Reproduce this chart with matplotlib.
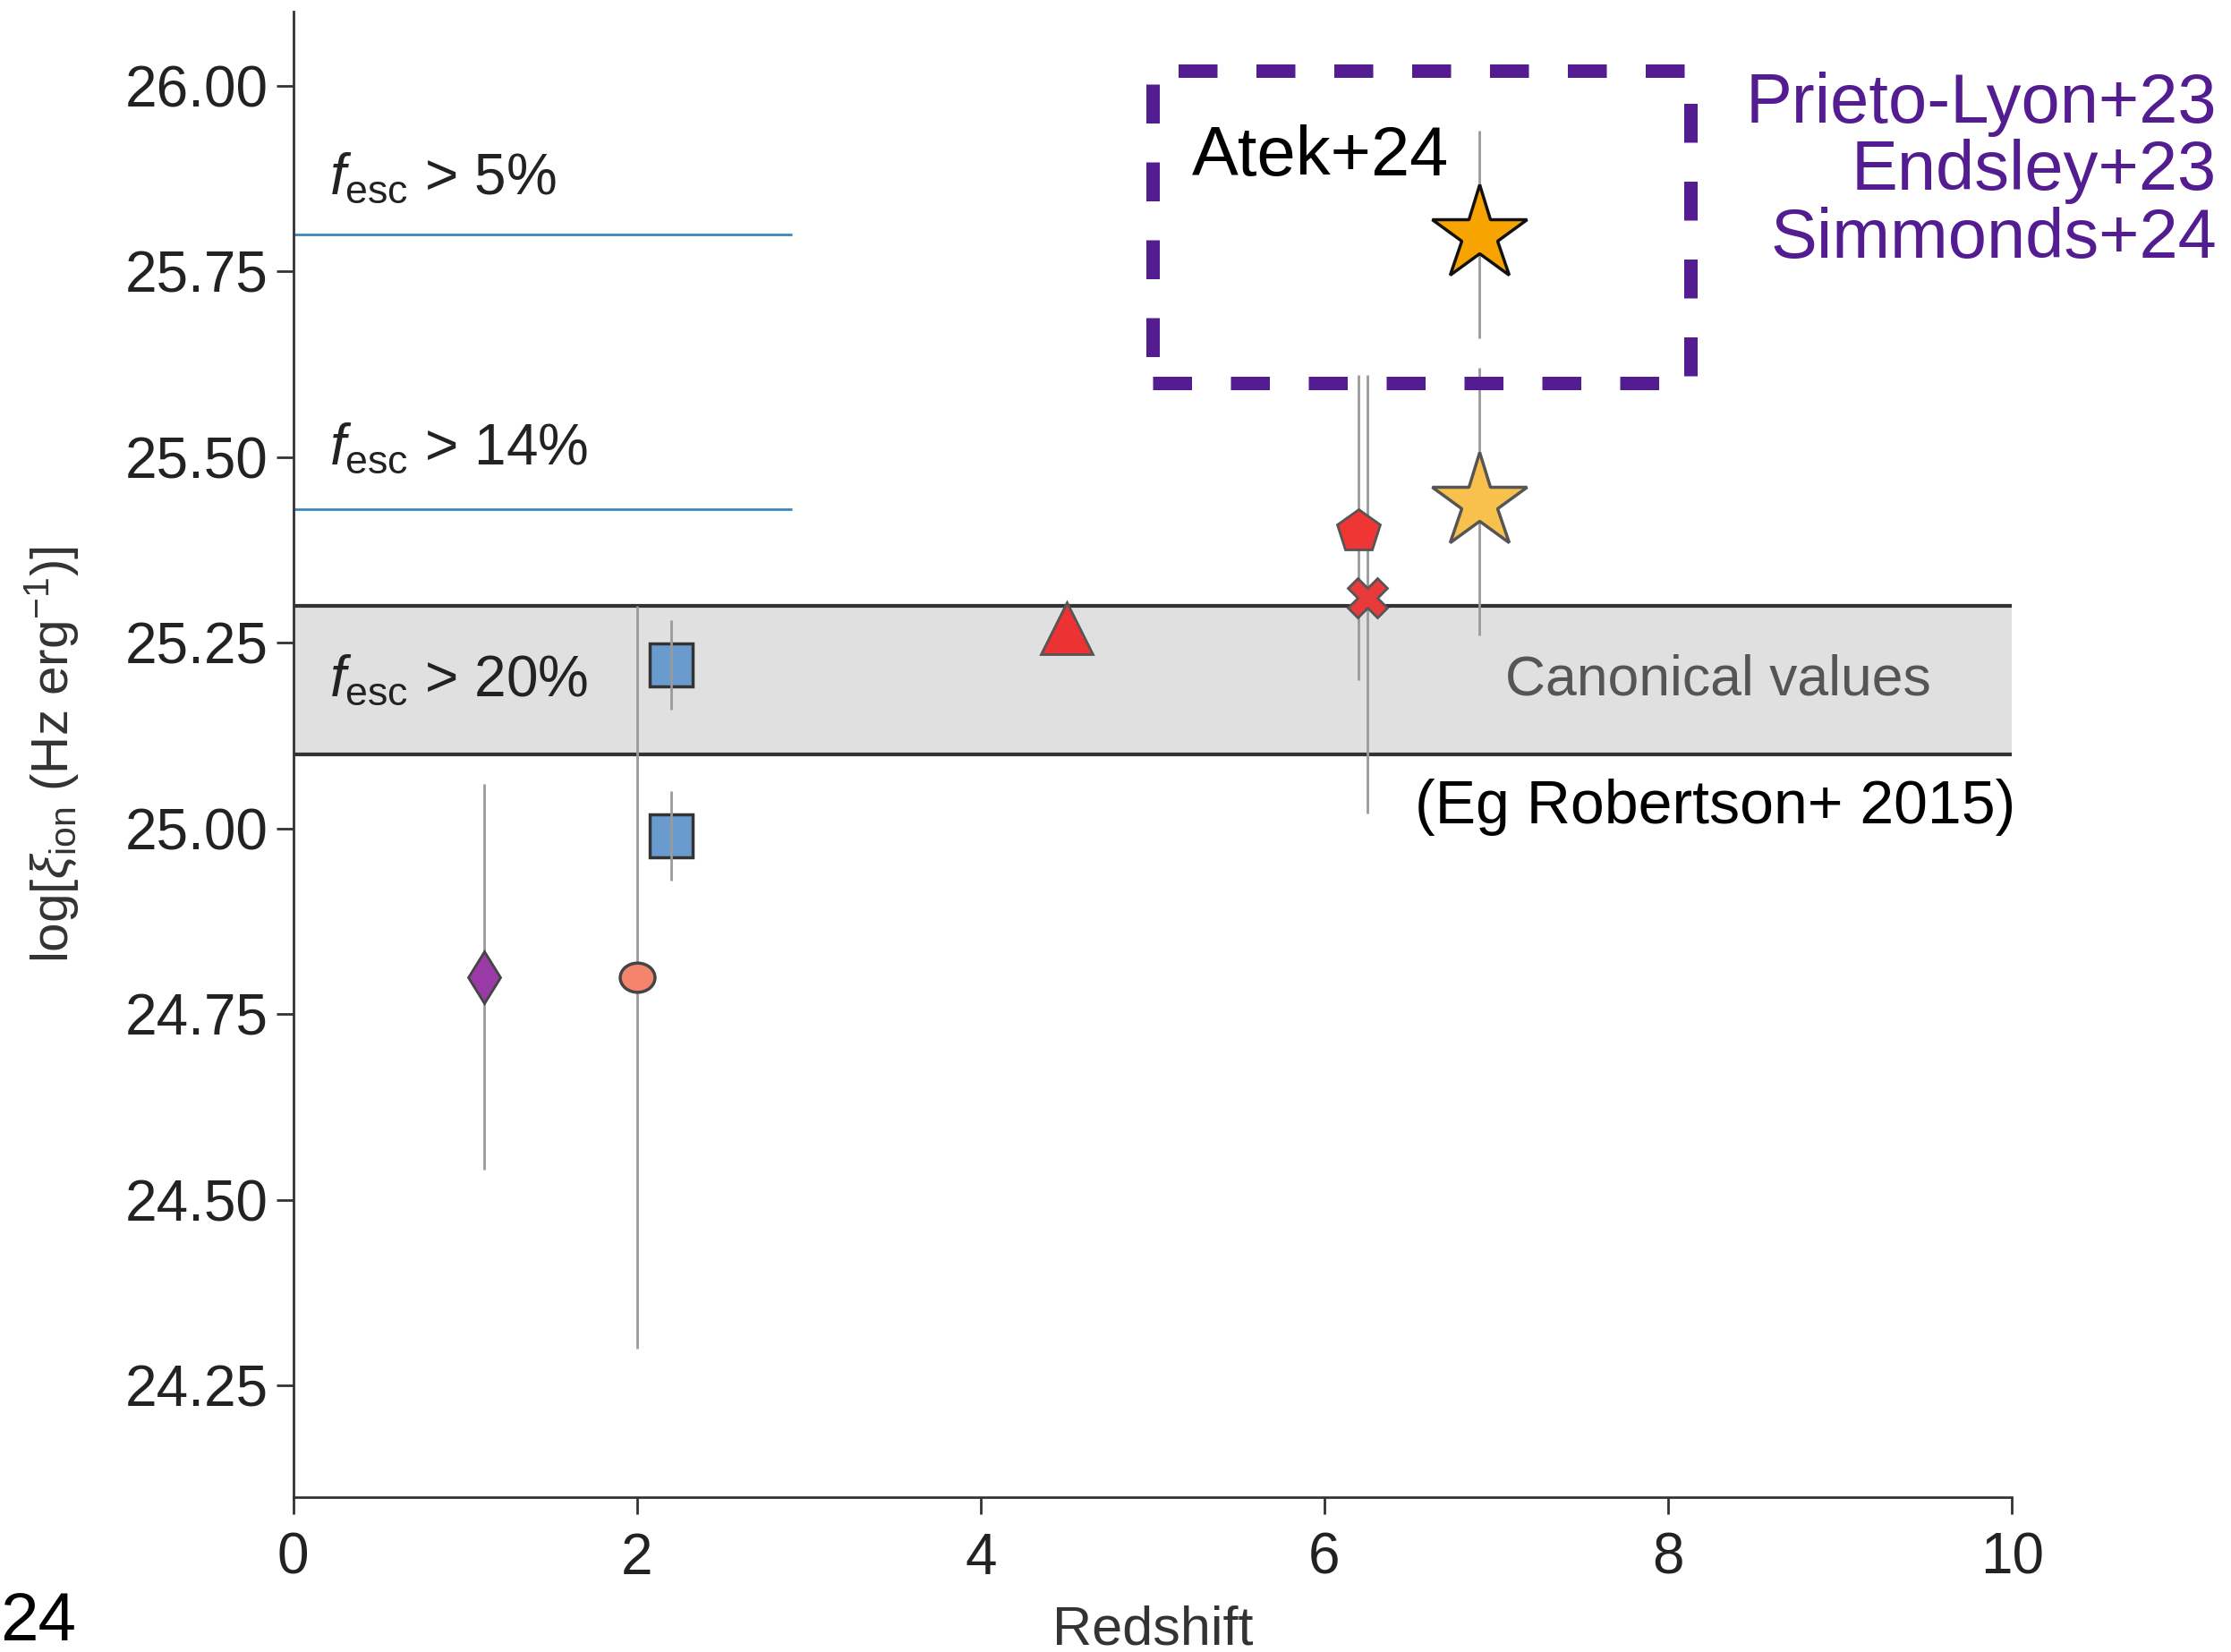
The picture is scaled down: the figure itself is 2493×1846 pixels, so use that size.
import numpy as np
import matplotlib
matplotlib.use("Agg")
import matplotlib.pyplot as plt
from matplotlib.patches import Rectangle
from matplotlib.path import Path
from matplotlib.transforms import Affine2D

plt.rcParams["font.family"] = ["Liberation Sans", "DejaVu Sans"]
plt.rcParams["mathtext.fontset"] = "custom"
plt.rcParams["mathtext.rm"] = "Liberation Sans"
plt.rcParams["mathtext.it"] = "Liberation Sans:italic"

# ionising photon production efficiency vs redshift
labels = ["diamond", "circle", "square_hi", "square_lo", "triangle",
          "pentagon", "cross", "star_lit", "star_atek"]
redshift = [1.11, 2.00, 2.20, 2.20, 4.50, 6.20, 6.25, 6.90, 6.90]
log_xi = [24.80, 24.80, 25.22, 24.99, 25.27, 25.40, 25.31, 25.44, 25.80]
err_lo = [24.54, 24.30, 25.16, 24.93, None, 25.20, 25.02, 25.26, 25.66]
err_hi = [25.06, 25.30, 25.28, 25.05, None, 25.61, 25.61, 25.62, 25.94]

# slightly squashed circle
oval = Path(Affine2D().scale(1.0, 0.84).transform(Path.unit_circle().vertices),
            Path.unit_circle().codes)

markers = ["d", oval, "s", "s", "^", "p", "X", "*", "*"]
sizes = [30, 28, 34, 34, 42, 36, 32, 80, 80]
faces = ["#9a3aa6", "#f4856c", "#6a9bcf", "#6a9bcf", "#ec3232",
         "#f03535", "#e83a3a", "#f8c04c", "#f7a400"]
edges = ["#444444", "#444444", "#333333", "#333333", "#555555",
         "#555555", "#555555", "#555555", "#111111"]
edge_w = [2, 2.5, 2.5, 2.5, 2, 2, 2, 2.5, 2.5]

# escape-fraction thresholds and the canonical band
fesc_levels = [25.80, 25.43]
fesc_labels = [r"$f_{\rm esc}$ > 5%", r"$f_{\rm esc}$ > 14%", r"$f_{\rm esc}$ > 20%"]
fesc_label_y = [25.875, 25.511, 25.199]
band = (25.10, 25.30)

refs = ["Prieto-Lyon+23", "Endsley+23", "Simmonds+24"]
ref_baselines = [0.926, 0.885, 0.844]

fig = plt.figure(figsize=(24.93, 18.46), dpi=100)
ax = fig.add_axes([0.1314, 0.0939, 0.7704, 0.8992])

ax.axhspan(band[0], band[1], fc="#e0e0e0", ec="none", zorder=0)
ax.hlines(band, 0, 10, color="#333333", lw=3, zorder=1)
ax.hlines(fesc_levels, 0, 2.9, color="#3b86bf", lw=2, zorder=1)

for i in range(len(redshift)):
    if err_lo[i] is not None:
        ax.vlines(redshift[i], err_lo[i], err_hi[i], color="#9a9a9a",
                  lw=2, zorder=2 if markers[i] != "s" else 4)
    ax.plot(redshift[i], log_xi[i], marker=markers[i], ms=sizes[i],
            mfc=faces[i], mec=edges[i], mew=edge_w[i], ls="none", zorder=3)

for lab, y in zip(fesc_labels, fesc_label_y):
    ax.text(0.21, y, lab, fontsize=46, color="#222222", va="center", ha="left")

ax.text(9.53, 25.20, "Canonical values", fontsize=45, color="#555555",
        ha="right", va="center")
ax.text(10.02, 25.028, "(Eg Robertson+ 2015)", fontsize=49, color="black",
        ha="right", va="center", clip_on=False)
ax.text(5.23, 25.904, "Atek+24", fontsize=56, color="black",
        ha="left", va="center")

ax.add_patch(Rectangle((5.0, 25.60), 3.13, 0.42, fill=False, ec="#541c91",
                       lw=10.8, ls=(0, (2.9, 2.9)), clip_on=False, zorder=5))

for ref, yb in zip(refs, ref_baselines):
    fig.text(0.9935, yb, ref, fontsize=56, color="#541c91",
             ha="right", va="baseline")

fig.text(0.0, 0.0175, "24", fontsize=55, color="black", ha="left", va="center")

ax.set_xlim(0, 10)
ax.set_ylim(24.1, 26.1)
ax.set_xticks(np.arange(0, 11, 2))
ax.set_yticks(np.arange(24.25, 26.01, 0.25))
ax.set_yticklabels([f"{v:.2f}" for v in np.arange(24.25, 26.01, 0.25)])

for side in ["top", "right"]:
    ax.spines[side].set_visible(False)
for side in ["left", "bottom"]:
    ax.spines[side].set_color("#333333")
    ax.spines[side].set_linewidth(2)

ax.tick_params(axis="both", direction="out", length=14, width=2,
               color="#333333", labelsize=46, labelcolor="#222222")
ax.tick_params(axis="x", pad=14)
ax.tick_params(axis="y", pad=6)

ax.set_xlabel("Redshift", fontsize=44, color="#333333", labelpad=16)
ax.set_ylabel(r"log[$\xi_{\rm ion}$ (Hz erg$^{-1}$)]", fontsize=42,
              color="#333333", labelpad=36)

fig.savefig("out.png", dpi=100)
